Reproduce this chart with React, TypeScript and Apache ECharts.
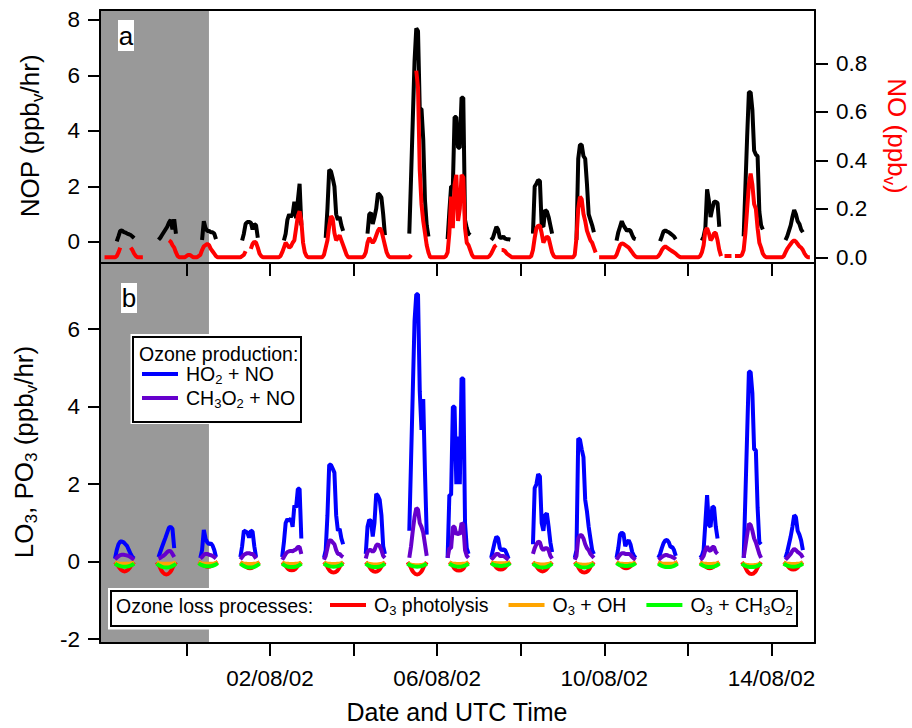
import React, { useEffect, useRef } from "react";
import * as echarts from "echarts";

// x values: days since 31/07/2002 00:00 UTC (so 02/08/02 = 2)
const X_MIN = -2.067;
const X_MAX = 15.04;
const SHADE_END = 0.54;
const FIRST_DAY = -2; // 29/07/2002

const TICK_DAYS = [0, 2, 4, 6, 8, 10, 12, 14];
const LABEL_DAYS = [2, 6, 10, 14];
const DATE_LABELS = ["02/08/02", "06/08/02", "10/08/02", "14/08/02"];
const NOP_TICKS = [0, 2, 4, 6, 8];
const NO_TICKS = [0, 0.2, 0.4, 0.6, 0.8];
const PO3_TICKS = [-2, 0, 2, 4, 6];
const NOP_RANGE = [-0.757, 8.36];
const NO_RANGE = [-0.0235, 1.02];
const PO3_RANGE = [-2.098, 7.708];

const DAY_HOURS = [6, 7, 8, 9, 10, 11, 12, 13, 14, 15, 16, 17, 18, 19];
const NO_HOURS = [0, 1, 2, 3, 4, 5, 6, 7, 8, 9, 10, 11, 12, 13, 14, 15, 16, 17, 18, 19, 20, 21, 22, 23];
const LOSS_HOURS = [7, 8.5, 10.5, 12.5, 14.5, 16.5, 18];

// NOP (ppbv/hr), one row per day (29/07 .. 14/08), hours 6..19
const nop = [
  [null, null, 0.02, 0.2, 0.4, 0.42, 0.36, 0.34, 0.3, 0.28, 0.25, 0.2, 0.14, null],
  [null, null, 0.08, 0.15, 0.25, 0.35, 0.45, 0.55, 0.7, 0.8, 0.45, 0.82, 0.3, null],
  [null, null, null, 0.07, 0.75, 0.5, 0.4, 0.4, 0.35, 0.35, 0.3, 0.1, null, null],
  [null, null, 0.05, 0.3, 0.65, 0.72, 0.72, 0.7, 0.45, 0.65, 0.6, 0.15, null, null],
  [null, null, 0.05, 0.3, 0.8, 1.0, 0.9, 1.0, 1.45, 0.85, 1.5, 2.1, 0.6, null],
  [null, null, 0.15, 1.2, 2.6, 2.55, 2.3, 2.0, 1.0, 0.8, 0.9, 0.6, 0.4, null],
  [null, null, 0.3, 1.0, 1.05, 0.65, 0.9, 1.2, 1.75, 1.7, 1.6, 1.0, 0.25, null],
  [null, null, 0.3, 2.3, 4.4, 6.5, 7.7, 7.6, 4.8, 4.8, 3.7, 1.5, 0.6, 0.2],
  [0.1, 1.1, 2.0, 2.0, 4.5, 4.5, 3.4, 3.4, 5.2, 5.2, 0.8, 0.5, 0.3, 0.25],
  [null, 0.07, 0.15, 0.35, 0.55, 0.45, 0.15, 0.15, 0.2, 0.12, 0.1, 0.1, 0.08, null],
  [null, 0.3, 2.0, 2.1, 2.23, 2.2, 0.6, 0.55, 1.15, 1.1, 0.9, 0.6, 0.3, null],
  [null, null, 0.07, 3.0, 3.5, 3.5, 3.1, 3.0, 2.1, 1.0, 0.8, 0.6, 0.35, null],
  [null, 0.05, 0.35, 0.55, 0.75, 0.6, 0.5, 0.4, 0.45, 0.4, 0.25, 0.12, 0.1, null],
  [null, null, 0.03, 0.2, 0.38, 0.42, 0.38, 0.35, 0.3, 0.25, 0.2, 0.1, null, null],
  [null, null, 0.05, 0.2, 0.5, 1.9, 1.5, 0.9, 1.2, 1.45, 1.45, 1.4, 0.55, null],
  [null, null, 0.2, 2.0, 3.8, 5.4, 5.4, 4.76, 3.3, 3.15, 3.1, 1.1, 0.6, 0.45],
  [null, null, 0.07, 0.2, 0.4, 0.6, 0.9, 1.15, 1.0, 0.75, 0.65, 0.45, 0.35, null],
];

// NO (ppbv), one row per day, hours 0..23
const no = [
  [null, 0, 0, 0, 0, 0, 0, 0, 0.005, 0.02, 0.04, null, null, null, null, null, 0.04, 0.03, 0.015, 0.005, 0, 0, 0, 0],
  [null, null, null, null, null, null, null, null, null, null, null, null, null, null, 0.07, 0.065, 0.05, 0.04, 0.02, 0.005, 0, 0, 0, 0],
  [0.005, 0.01, 0.01, 0.005, 0, 0, 0, 0.005, 0.01, 0.03, 0.045, 0.05, 0.055, 0.05, 0.035, 0.025, 0.015, 0.005, 0, 0, 0, 0, 0, 0],
  [0, 0, 0, 0, 0, 0, 0, 0, 0.005, 0.01, 0.025, null, null, 0.035, 0.055, 0.065, 0.06, 0.04, 0.015, 0.005, 0, 0, 0, 0],
  [0, 0, 0, 0, 0, 0, 0.005, 0.02, 0.04, 0.06, 0.05, 0.04, 0.045, 0.06, 0.07, 0.12, 0.17, 0.19, 0.15, 0.06, 0.02, 0.005, 0, 0],
  [0, 0, 0, 0, 0, 0, 0, 0.01, 0.04, 0.07, 0.13, 0.17, 0.16, 0.1, 0.07, 0.08, 0.09, 0.07, 0.05, 0.03, 0.01, 0, 0, 0],
  [0, 0, 0, 0, 0, 0, 0.005, 0.02, 0.06, 0.08, 0.07, 0.06, 0.07, 0.09, 0.11, 0.12, 0.11, 0.08, 0.05, 0.02, 0.005, 0, 0, 0],
  [0, 0, 0, 0, 0, 0, 0, 0, 0, 0.01, null, null, 0.77, 0.7, 0.36, 0.22, 0.15, 0.1, 0.05, 0.02, 0, 0, 0, 0],
  [0, 0, 0, 0, 0, 0.005, 0.02, 0.1, 0.25, 0.12, 0.3, 0.34, 0.15, 0.2, 0.34, 0.33, 0.12, 0.06, 0.05, 0.03, 0.01, 0, 0, 0],
  [0, 0, 0, 0, 0, 0, 0.005, 0.015, 0.03, 0.045, 0.05, null, null, 0.03, 0.03, 0.025, 0.015, 0.01, 0.005, 0, 0, 0, 0, 0],
  [0, 0, 0, 0, 0, 0, 0.005, 0.03, 0.08, 0.12, 0.13, 0.13, 0.1, 0.06, 0.075, 0.085, 0.08, 0.05, 0.02, 0.005, 0, 0, 0, 0],
  [0, 0, 0, 0, 0, 0, 0, 0.01, 0.08, 0.2, 0.25, 0.24, 0.18, 0.15, 0.11, 0.09, 0.07, 0.06, 0.04, 0.02, null, 0, 0, 0],
  [0, 0, 0, 0, 0, 0, 0, 0.01, 0.03, 0.05, 0.058, 0.055, 0.05, 0.045, 0.04, 0.03, 0.02, 0.01, 0.003, 0, 0, 0, 0, 0],
  [0, 0, 0, 0, 0, 0, 0, 0.005, 0.015, 0.03, 0.04, 0.045, 0.04, 0.035, 0.03, 0.025, 0.02, 0.015, 0.008, 0.003, 0, 0, 0, 0],
  [0, 0, 0, 0, 0, 0, 0, 0.005, 0.02, 0.05, 0.11, 0.12, 0.1, 0.07, 0.08, 0.1, 0.1, 0.07, 0.03, 0.005, null, 0.005, 0.005, 0.005],
  [0.005, 0.005, null, 0.005, 0.005, 0.005, 0.005, 0.01, 0.03, 0.1, 0.2, 0.3, 0.345, 0.3, 0.22, 0.2, 0.12, 0.06, 0.04, 0.015, 0.005, 0, 0, 0],
  [0, 0, 0, 0, 0, 0, 0, 0.005, 0.02, 0.035, 0.045, 0.055, 0.065, 0.07, 0.065, 0.055, 0.045, 0.04, 0.03, 0.015, 0.005, 0, 0, null],
];

// HO2 + NO (ppbv/hr), hours 6..19
const ho2no = [
  [null, 0.08, 0.3, 0.45, 0.52, 0.52, 0.5, 0.45, 0.4, 0.3, 0.2, 0.12, 0.08, null],
  [null, null, 0.12, 0.25, 0.38, 0.5, 0.62, 0.75, 0.88, 0.9, 0.85, 0.35, null, null],
  [null, null, 0.1, 0.3, 0.82, 0.6, 0.5, 0.45, 0.48, 0.42, 0.3, 0.12, null, null],
  [null, 0.12, 0.4, 0.8, 0.78, 0.75, 0.62, 0.8, 0.78, 0.4, 0.12, null, null, null],
  [null, 0.12, 0.5, 1.0, 1.1, 1.05, 1.12, 0.9, 1.45, 1.4, 1.88, 1.88, 0.6, null],
  [null, 0.1, 0.3, 1.2, 2.5, 2.5, 2.4, 2.3, 1.2, 0.8, 0.85, 0.6, 0.45, null],
  [null, 0.2, 0.9, 1.08, 1.05, 0.65, 1.0, 1.75, 1.7, 1.6, 1.2, 0.4, 0.2, null],
  [null, null, 0.8, 2.6, 4.4, 6.2, 6.9, 6.9, 4.4, 3.4, 4.2, 2.3, 0.7, null],
  [0.1, 1.72, 1.72, 4.0, 4.0, 2.0, 3.23, 2.0, 4.73, 4.73, 1.0, 0.35, 0.2, null],
  [null, 0.1, 0.3, 0.5, 0.65, 0.6, 0.35, 0.3, 0.32, 0.3, 0.2, 0.08, null, null],
  [null, 0.45, 1.9, 2.0, 2.26, 2.2, 1.0, 0.8, 1.2, 1.25, 0.9, 0.5, 0.25, null],
  [null, 0.1, 0.3, 3.18, 3.15, 2.9, 2.7, 1.6, 1.3, 0.9, 0.6, 0.3, 0.2, null],
  [null, 0.1, 0.35, 0.7, 0.75, 0.72, 0.4, 0.5, 0.55, 0.45, 0.25, 0.15, 0.1, null],
  [null, 0.1, 0.2, 0.35, 0.48, 0.55, 0.56, 0.5, 0.38, 0.38, 0.3, 0.15, null, null],
  [null, 0.1, 0.15, 0.3, 1.0, 1.72, 0.95, 0.9, 1.42, 1.4, 0.9, 0.6, null, null],
  [null, null, 0.1, 1.7, 3.3, 4.9, 4.9, 4.35, 2.9, 2.88, 1.4, 0.5, 0.45, null],
  [null, null, 0.1, 0.25, 0.45, 0.65, 0.9, 1.2, 1.15, 0.8, 0.7, 0.55, 0.3, null],
];

// CH3O2 + NO (ppbv/hr), hours 6..19
const ch3o2no = [
  [null, 0.06, 0.1, 0.14, 0.17, 0.18, 0.18, 0.17, 0.16, 0.14, 0.12, 0.08, 0.05, null],
  [null, null, 0.08, 0.1, 0.13, 0.16, 0.2, 0.25, 0.28, 0.27, 0.2, 0.12, null, null],
  [null, null, 0.08, 0.12, 0.18, 0.2, 0.2, 0.18, 0.17, 0.15, 0.12, 0.08, null, null],
  [null, 0.06, 0.12, 0.18, 0.2, 0.22, 0.22, 0.2, 0.2, 0.15, 0.08, null, null, null],
  [null, 0.05, 0.12, 0.2, 0.25, 0.27, 0.28, 0.27, 0.3, 0.32, 0.38, 0.38, 0.2, null],
  [null, 0.05, 0.15, 0.35, 0.55, 0.55, 0.5, 0.45, 0.3, 0.2, 0.2, 0.15, 0.12, null],
  [null, 0.08, 0.25, 0.3, 0.3, 0.25, 0.3, 0.42, 0.45, 0.4, 0.3, 0.15, 0.1, null],
  [null, null, 0.1, 0.4, 0.8, 1.15, 1.38, 1.35, 1.0, 0.9, 0.75, 0.45, 0.15, null],
  [0.1, 0.35, 0.35, 0.9, 0.9, 0.7, 0.75, 0.7, 1.0, 0.95, 0.3, 0.15, 0.1, null],
  [null, 0.05, 0.1, 0.15, 0.2, 0.2, 0.15, 0.15, 0.15, 0.12, 0.08, 0.05, null, null],
  [null, 0.2, 0.35, 0.45, 0.52, 0.5, 0.35, 0.3, 0.35, 0.35, 0.3, 0.15, 0.08, null],
  [null, 0.05, 0.15, 0.6, 0.68, 0.68, 0.6, 0.45, 0.35, 0.3, 0.2, 0.15, 0.1, null],
  [null, 0.05, 0.12, 0.18, 0.22, 0.22, 0.2, 0.2, 0.2, 0.18, 0.12, 0.08, 0.05, null],
  [null, 0.05, 0.08, 0.12, 0.15, 0.17, 0.17, 0.15, 0.14, 0.12, 0.1, 0.06, null, null],
  [null, 0.05, 0.08, 0.15, 0.3, 0.4, 0.3, 0.28, 0.38, 0.38, 0.25, 0.2, null, null],
  [null, null, 0.1, 0.4, 0.7, 0.98, 0.95, 0.8, 0.6, 0.5, 0.35, 0.2, 0.1, null],
  [null, null, 0.05, 0.1, 0.15, 0.2, 0.28, 0.33, 0.3, 0.25, 0.22, 0.18, 0.1, null],
];

// Loss terms (ppbv/hr), hours 7, 8.5, 10.5, 12.5, 14.5, 16.5, 18
const o3Photolysis = [
  [-0.01, -0.09, -0.21, -0.25, -0.21, -0.09, -0.01],
  [-0.01, -0.12, -0.28, -0.33, -0.28, -0.12, -0.01],
  [-0.01, -0.05, -0.11, -0.13, -0.11, -0.05, -0.01],
  [-0.01, -0.06, -0.14, -0.17, -0.14, -0.06, -0.01],
  [-0.01, -0.08, -0.19, -0.22, -0.19, -0.08, -0.01],
  [-0.01, -0.1, -0.24, -0.28, -0.24, -0.1, -0.01],
  [-0.01, -0.09, -0.22, -0.26, -0.22, -0.09, -0.01],
  [-0.01, -0.12, -0.28, -0.33, -0.28, -0.12, -0.01],
  [-0.01, -0.08, -0.2, -0.23, -0.2, -0.08, -0.01],
  [-0.01, -0.07, -0.17, -0.2, -0.17, -0.07, -0.01],
  [-0.01, -0.09, -0.21, -0.25, -0.21, -0.09, -0.01],
  [-0.01, -0.1, -0.24, -0.28, -0.24, -0.1, -0.01],
  [-0.01, -0.06, -0.14, -0.17, -0.14, -0.06, -0.01],
  [-0.01, -0.05, -0.11, -0.13, -0.11, -0.05, -0.01],
  [-0.01, -0.06, -0.14, -0.17, -0.14, -0.06, -0.01],
  [-0.01, -0.11, -0.27, -0.32, -0.27, -0.11, -0.01],
  [-0.01, -0.07, -0.17, -0.2, -0.17, -0.07, -0.01],
];
const o3OH = [
  [-0.02, -0.04, -0.05, -0.05, -0.05, -0.04, -0.02],
  [-0.02, -0.04, -0.05, -0.05, -0.05, -0.04, -0.02],
  [-0.02, -0.04, -0.05, -0.05, -0.05, -0.04, -0.02],
  [-0.02, -0.045, -0.055, -0.06, -0.055, -0.045, -0.02],
  [-0.02, -0.045, -0.055, -0.06, -0.055, -0.045, -0.02],
  [-0.02, -0.045, -0.055, -0.06, -0.055, -0.045, -0.02],
  [-0.03, -0.05, -0.065, -0.07, -0.065, -0.05, -0.03],
  [-0.04, -0.07, -0.085, -0.09, -0.085, -0.07, -0.04],
  [-0.02, -0.045, -0.055, -0.06, -0.055, -0.045, -0.02],
  [-0.02, -0.03, -0.04, -0.04, -0.04, -0.03, -0.02],
  [-0.03, -0.05, -0.065, -0.07, -0.065, -0.05, -0.03],
  [-0.03, -0.06, -0.075, -0.08, -0.075, -0.06, -0.03],
  [-0.02, -0.045, -0.055, -0.06, -0.055, -0.045, -0.02],
  [-0.02, -0.04, -0.05, -0.05, -0.05, -0.04, -0.02],
  [-0.02, -0.045, -0.055, -0.06, -0.055, -0.045, -0.02],
  [-0.04, -0.07, -0.085, -0.09, -0.085, -0.07, -0.04],
  [-0.02, -0.045, -0.055, -0.06, -0.055, -0.045, -0.02],
];
const o3CH3O2 = [
  [-0.05, -0.09, -0.12, -0.13, -0.12, -0.09, -0.05],
  [-0.05, -0.1, -0.14, -0.15, -0.14, -0.1, -0.05],
  [-0.04, -0.08, -0.11, -0.12, -0.11, -0.08, -0.04],
  [-0.05, -0.1, -0.14, -0.15, -0.14, -0.1, -0.05],
  [-0.05, -0.1, -0.13, -0.14, -0.13, -0.1, -0.05],
  [-0.05, -0.09, -0.12, -0.13, -0.12, -0.09, -0.05],
  [-0.05, -0.1, -0.13, -0.14, -0.13, -0.1, -0.05],
  [-0.05, -0.09, -0.12, -0.13, -0.12, -0.09, -0.05],
  [-0.05, -0.09, -0.12, -0.13, -0.12, -0.09, -0.05],
  [-0.04, -0.08, -0.1, -0.11, -0.1, -0.08, -0.04],
  [-0.05, -0.1, -0.14, -0.15, -0.14, -0.1, -0.05],
  [-0.05, -0.1, -0.14, -0.15, -0.14, -0.1, -0.05],
  [-0.04, -0.08, -0.1, -0.11, -0.1, -0.08, -0.04],
  [-0.05, -0.1, -0.13, -0.14, -0.13, -0.1, -0.05],
  [-0.05, -0.1, -0.13, -0.14, -0.13, -0.1, -0.05],
  [-0.05, -0.1, -0.13, -0.14, -0.13, -0.1, -0.05],
  [-0.05, -0.09, -0.12, -0.13, -0.12, -0.09, -0.05],
];

const FONT = "'Liberation Sans', Arial, Helvetica, sans-serif";
const LEGEND_TEXT: Record<string, string> = {
  "HO2 + NO": "{n|HO}{s|2}{n| + NO}",
  "CH3O2 + NO": "{n|CH}{s|3}{n|O}{s|2}{n| + NO}",
  "O3 photolysis": "{n|O}{s|3}{n| photolysis}",
  "O3 + OH": "{n|O}{s|3}{n| + OH}",
  "O3 + CH3O2": "{n|O}{s|3}{n| + CH}{s|3}{n|O}{s|2}",
};

function toSeries(rows: any[][], hours: number[], breakDays: boolean) {
  const out: any[] = [];
  rows.forEach((row, d) => {
    row.forEach((v, i) => {
      out.push([FIRST_DAY + d + hours[i] / 24, v === null ? "-" : v]);
    });
    if (breakDays) out.push([FIRST_DAY + d + 23.5 / 24, "-"]);
  });
  return out;
}

function buildOption() {
  const axisLine = { show: true, onZero: false, lineStyle: { color: "#000", width: 2 } };
  const tickLine = { color: "#000", width: 2 };
  const labelBase = { color: "#000", fontSize: 22.5, fontFamily: FONT };
  const noTick = { show: false };
  const noLabel = { show: false };
  const noSplit = { show: false };

  const legendRich = {
    n: { fontSize: 19.5, lineHeight: 24, fontFamily: FONT, color: "#000" },
    s: { fontSize: 13, lineHeight: 13, fontFamily: FONT, color: "#000", verticalAlign: "bottom" },
  };
  const titleRich = (color: string) => ({
    n: { fontSize: 26, lineHeight: 32, fontFamily: FONT, fill: color },
    s: { fontSize: 17, lineHeight: 18, fontFamily: FONT, fill: color, verticalAlign: "bottom" },
  });

  const line = (name: string, color: string, xi: number, yi: number, data: any[], smooth = false, z = 3) => ({
    type: "line",
    name,
    xAxisIndex: xi,
    yAxisIndex: yi,
    data,
    color,
    showSymbol: false,
    symbol: "none",
    smooth,
    connectNulls: false,
    z,
    silent: true,
    lineStyle: { color, width: 4, join: "bevel", cap: "butt" },
  });

  const shade = (xi: number, yi: number, name: string) => ({
    type: "line",
    name,
    xAxisIndex: xi,
    yAxisIndex: yi,
    data: [],
    z: 1,
    silent: true,
    markArea: {
      silent: true,
      itemStyle: { color: "#999999" },
      data: [[{ xAxis: X_MIN }, { xAxis: SHADE_END }]],
    },
  });

  return {
    animation: false,
    backgroundColor: "#ffffff",
    grid: [
      { left: 100, top: 10, width: 715, height: 253 },
      { left: 100, top: 263, width: 715, height: 380 },
    ],
    xAxis: [
      {
        gridIndex: 0, type: "value", min: X_MIN, max: X_MAX, position: "bottom", z: 10,
        axisLine, axisTick: { show: true, inside: false, length: 13, customValues: TICK_DAYS, lineStyle: tickLine },
        axisLabel: noLabel, splitLine: noSplit,
      },
      {
        gridIndex: 1, type: "value", min: X_MIN, max: X_MAX, position: "bottom", z: 10,
        axisLine, axisTick: { show: true, inside: false, length: 13, customValues: TICK_DAYS, lineStyle: tickLine },
        axisLabel: {
          ...labelBase, margin: 24, customValues: LABEL_DAYS,
          formatter: (v: number) => {
            const i = LABEL_DAYS.findIndex((d) => Math.abs(d - v) < 1e-6);
            return i >= 0 ? DATE_LABELS[i] : "";
          },
        },
        splitLine: noSplit,
      },
      {
        gridIndex: 0, type: "value", min: X_MIN, max: X_MAX, position: "top", z: 10,
        axisLine, axisTick: noTick, axisLabel: noLabel, splitLine: noSplit,
      },
    ],
    yAxis: [
      {
        gridIndex: 0, type: "value", min: NOP_RANGE[0], max: NOP_RANGE[1], position: "left", z: 10,
        axisLine, axisTick: { show: true, inside: false, length: 12, customValues: NOP_TICKS, lineStyle: tickLine },
        axisLabel: { ...labelBase, margin: 20, customValues: NOP_TICKS, formatter: (v: number) => String(Math.round(v)) },
        splitLine: noSplit,
      },
      {
        gridIndex: 0, type: "value", min: NO_RANGE[0], max: NO_RANGE[1], position: "right", z: 10,
        axisLine, axisTick: { show: true, inside: false, length: 13, customValues: NO_TICKS, lineStyle: tickLine },
        axisLabel: { ...labelBase, margin: 21, customValues: NO_TICKS, formatter: (v: number) => v.toFixed(1) },
        splitLine: noSplit,
      },
      {
        gridIndex: 1, type: "value", min: PO3_RANGE[0], max: PO3_RANGE[1], position: "left", z: 10,
        axisLine, axisTick: { show: true, inside: false, length: 12, customValues: PO3_TICKS, lineStyle: tickLine },
        axisLabel: { ...labelBase, margin: 20, customValues: PO3_TICKS, formatter: (v: number) => String(Math.round(v)) },
        splitLine: noSplit,
      },
      {
        gridIndex: 1, type: "value", min: PO3_RANGE[0], max: PO3_RANGE[1], position: "right", z: 10,
        axisLine, axisTick: noTick, axisLabel: noLabel, splitLine: noSplit,
      },
    ],
    legend: [
      {
        data: ["HO2 + NO", "CH3O2 + NO"], orient: "vertical", left: 142, top: 364, padding: 0,
        itemWidth: 36, itemHeight: 4, itemGap: 2, icon: "rect", selectedMode: false, z: 60,
        formatter: (n: string) => LEGEND_TEXT[n],
        textStyle: { padding: [0, 0, 0, 3], rich: legendRich },
      },
      {
        data: ["O3 photolysis", "O3 + OH", "O3 + CH3O2"], orient: "horizontal", left: 330, top: 595, padding: 0,
        itemWidth: 36, itemHeight: 4, itemGap: 20, icon: "rect", selectedMode: false, z: 60,
        formatter: (n: string) => LEGEND_TEXT[n],
        textStyle: { padding: [0, 0, 0, 3], rich: legendRich },
      },
    ],
    series: [
      shade(0, 0, "_shadeTop"),
      shade(1, 2, "_shadeBottom"),
      line("NOP", "#000000", 0, 0, toSeries(nop, DAY_HOURS, true)),
      line("NO", "#ff0000", 0, 1, toSeries(no, NO_HOURS, false), false, 4),
      line("HO2 + NO", "#0000ff", 1, 2, toSeries(ho2no, DAY_HOURS, true)),
      line("CH3O2 + NO", "#6600cc", 1, 2, toSeries(ch3o2no, DAY_HOURS, true), false, 4),
      line("O3 photolysis", "#ff0000", 1, 2, toSeries(o3Photolysis, LOSS_HOURS, true), true, 4),
      line("O3 + OH", "#ffa500", 1, 2, toSeries(o3OH, LOSS_HOURS, true), true, 5),
      line("O3 + CH3O2", "#00ff00", 1, 2, toSeries(o3CH3O2, LOSS_HOURS, true), true, 6),
    ],
    graphic: [
      { type: "rect", z: 50, shape: { x: 118, y: 20, width: 16, height: 31 }, style: { fill: "#fff" } },
      { type: "text", z: 51, x: 126, y: 36, style: { text: "a", fill: "#000", font: `26px ${FONT}`, align: "center", verticalAlign: "middle" } },
      { type: "rect", z: 50, shape: { x: 121, y: 283, width: 16, height: 30 }, style: { fill: "#fff" } },
      { type: "text", z: 51, x: 129, y: 298, style: { text: "b", fill: "#000", font: `26px ${FONT}`, align: "center", verticalAlign: "middle" } },

      { type: "rect", z: 50, shape: { x: 130.5, y: 334, width: 172.5, height: 90 }, style: { fill: "#fff" } },
      { type: "rect", z: 51, shape: { x: 133, y: 337, width: 168, height: 85 }, style: { fill: "#fff", stroke: "#000", lineWidth: 2 } },
      { type: "text", z: 52, x: 139, y: 354, style: { text: "Ozone production:", fill: "#000", font: `19.5px ${FONT}`, align: "left", verticalAlign: "middle" } },

      { type: "rect", z: 50, shape: { x: 108, y: 588, width: 691, height: 41.5 }, style: { fill: "#fff" } },
      { type: "rect", z: 51, shape: { x: 111, y: 591, width: 686, height: 35 }, style: { fill: "#fff", stroke: "#000", lineWidth: 2 } },
      { type: "text", z: 52, x: 116, y: 606, style: { text: "Ozone loss processes:", fill: "#000", font: `19.5px ${FONT}`, align: "left", verticalAlign: "middle" } },

      {
        type: "text", z: 52, x: 30, y: 136, rotation: Math.PI / 2,
        style: { text: "{n|NOP (ppb}{s|v}{n|/hr)}", rich: titleRich("#000"), fill: "#000", align: "center", verticalAlign: "middle" },
      },
      {
        type: "text", z: 52, x: 897, y: 136, rotation: -Math.PI / 2,
        style: { text: "{n|NO (ppb}{s|v}{n|)}", rich: titleRich("#ff0000"), fill: "#ff0000", align: "center", verticalAlign: "middle" },
      },
      {
        type: "text", z: 52, x: 24, y: 452, rotation: Math.PI / 2,
        style: { text: "{n|LO}{s|3}{n|, PO}{s|3}{n| (ppb}{s|v}{n|/hr)}", rich: titleRich("#000"), fill: "#000", align: "center", verticalAlign: "middle" },
      },
      {
        type: "text", z: 52, x: 457, y: 712,
        style: { text: "Date and UTC Time", fill: "#000", font: `25px ${FONT}`, align: "center", verticalAlign: "middle" },
      },
    ],
  };
}

export default function App() {
  const ref = useRef<HTMLDivElement>(null);
  useEffect(() => {
    if (!ref.current) return;
    const chart = echarts.init(ref.current, null, { renderer: "svg" });
    chart.setOption(buildOption() as any);
    return () => chart.dispose();
  }, []);
  return (
    <div
      ref={ref}
      style={{ position: "fixed", left: 0, top: 0, width: 912, height: 728, background: "#fff" }}
    />
  );
}
